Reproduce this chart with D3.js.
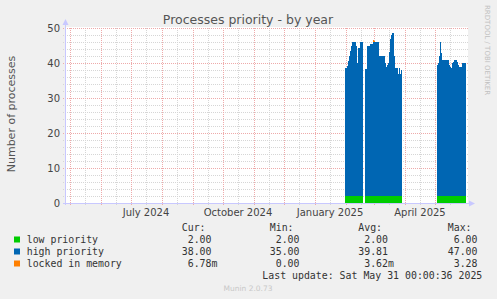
<!DOCTYPE html>
<html>
<head>
<meta charset="utf-8">
<script src="https://cdn.jsdelivr.net/npm/d3@7"></script>
<style>
  body { margin: 0; background: #f0f0f0; }
  svg { display: block; font-family: "DejaVu Sans", sans-serif; }
  .mono { font-family: "DejaVu Sans Mono", monospace; }
</style>
</head>
<body>
<svg id="chart" width="497" height="299"></svg>
<script>
// data, one value per day
const segmentStarts = ['2025-01-31', '2025-02-20', '2025-05-03'];
const highPriority = [
  [36.7, 36.7, 37.2, 38.5, 40, 41.5, 43, 44, 44, 44, 44, 43, 37.9, 42.4, 42.4, 44, 44, 44],
  [36.3, 36.3, 42.9, 42.9, 42.9, 43.3, 43.3, 43.3, 44.1, 44.1, 44.1, 44.1, 44.1, 44.1, 40, 40, 40,
   40, 40, 40, 38, 37, 37.4, 38, 41.2, 45, 46, 46.5, 46.5, 40, 36.5, 36.5, 36.5, 35, 36.5, 35, 36],
  [37.4, 37.9, 40, 44, 41, 38.9, 38.9, 38.9, 38.9, 38.9, 38.9, 38.9, 37.4, 36.9, 36.5, 37.9, 38.3,
   38.9, 38.9, 38.9, 38.3, 37.4, 36.9, 36.9, 36.9, 37.9, 38, 38, 38]
];
const lowPriority = [
  [2, 2, 2, 2, 2, 2, 2, 2, 2, 2, 2, 2, 2, 2, 2, 2, 2, 2],
  [2, 2, 2, 2, 2, 2, 2, 2, 2, 2, 2, 2, 2, 2, 2, 2, 2, 2, 2, 2, 2, 2, 2, 2, 2, 2, 2, 2, 2, 2, 2, 2, 2, 2, 2, 2, 2],
  [2, 2, 2, 2, 2, 2, 2, 2, 2, 2, 2, 2, 2, 2, 2, 2, 2, 2, 2, 2, 2, 2, 2, 2, 2, 2, 2, 2, 2]
];
const lockedInMemory = [
  [0, 0, 0, 0, 0, 0, 0, 0, 0, 0, 0, 0, 0, 0, 0, 0, 0, 0],
  [0, 0, 0, 0, 0, 0, 0, 0, 0.4, 0.3, 0, 0, 0, 0, 0, 0, 0, 0, 0, 0, 0, 0, 0, 0, 0, 0, 0, 0, 0, 0, 0, 0, 0, 0, 0, 0, 0],
  [0, 0, 0, 0, 0, 0, 0, 0, 0, 0, 0, 0, 0, 0, 0, 0, 0, 0, 0, 0, 0, 0, 0, 0, 0, 0, 0, 0, 0]
];

const seriesNames = ['low priority', 'high priority', 'locked in memory'];
const seriesColors = ['#00cc00', '#0066b3', '#ff8000'];
const statCur = ['2.00', '38.00', '6.78m'];
const statMin = ['2.00', '35.00', '0.00'];
const statAvg = ['2.00', '39.81', '3.62m'];
const statMax = ['6.00', '47.00', '3.28'];
const yTicks = [0, 10, 20, 30, 40, 50];

const svg = d3.select('#chart');
const day = 86400000;

// plot frame
const pLeft = 66, pRight = 466, pTop = 28, pBottom = 203;
const x = d3.scaleUtc()
  .domain([new Date(Date.UTC(2024, 3, 27)), new Date(Date.UTC(2025, 5, 1))])
  .range([pLeft, pRight]);
const y = d3.scaleLinear().domain([0, 50]).range([pBottom, pTop]);

svg.append('rect').attr('x', pLeft).attr('y', pTop - 1)
  .attr('width', pRight - pLeft + 2).attr('height', pBottom - pTop + 1)
  .attr('fill', '#fff');

// grid (behind data)
const gridG = svg.append('g').attr('shape-rendering', 'crispEdges');
const minorColor = '#d6d6d6', majorColor = '#eeaaaa';
const minorY = d3.range(0, 51, 2).filter(v => v % 10 !== 0);
gridG.selectAll('.ymin').data(minorY).enter().append('line')
  .attr('x1', pLeft - 3).attr('x2', pRight + 2)
  .attr('y1', d => y(d) + 0.5).attr('y2', d => y(d) + 0.5)
  .attr('stroke', minorColor).attr('stroke-dasharray', '1,1');
const halfMonths = d3.utcMonth.range(x.domain()[0], x.domain()[1]).map(m => d3.utcDay.offset(m, 15));
gridG.selectAll('.xmin').data(halfMonths).enter().append('line')
  .attr('x1', d => Math.round(x(d)) + 0.5).attr('x2', d => Math.round(x(d)) + 0.5)
  .attr('y1', pTop).attr('y2', pBottom + 3)
  .attr('stroke', minorColor).attr('stroke-dasharray', '1,1');
gridG.selectAll('.ymaj').data(yTicks.slice(1)).enter().append('line')
  .attr('x1', pLeft - 3).attr('x2', pRight + 2)
  .attr('y1', d => y(d) + 0.5).attr('y2', d => y(d) + 0.5)
  .attr('stroke', majorColor).attr('stroke-dasharray', '1,1');
const months = d3.utcMonth.range(x.domain()[0], x.domain()[1]);
gridG.selectAll('.xmaj').data(months).enter().append('line')
  .attr('x1', d => Math.round(x(d)) + 0.5).attr('x2', d => Math.round(x(d)) + 0.5)
  .attr('y1', pTop).attr('y2', pBottom + 3)
  .attr('stroke', majorColor).attr('stroke-dasharray', '1,1');

// stacked areas per segment
const stack = d3.stack().keys([0, 1, 2]);
const area = d3.area()
  .curve(d3.curveStepAfter)
  .x(d => x(d.data.date))
  .y0(d => y(d[0]))
  .y1(d => y(d[1]));

segmentStarts.forEach((s, si) => {
  const t0 = new Date(s + 'T00:00:00Z').getTime();
  const rows = highPriority[si].map((h, i) => ({
    date: new Date(t0 + i * day),
    0: lowPriority[si][i], 1: h, 2: lockedInMemory[si][i]
  }));
  const last = rows[rows.length - 1];
  rows.push(Object.assign({}, last, { date: new Date(last.date.getTime() + day) }));
  const layers = stack(rows);
  layers.forEach((layer, k) => {
    svg.append('path')
      .attr('d', area(layer))
      .attr('fill', seriesColors[k])
      .attr('shape-rendering', 'crispEdges');
  });
});

// axes
svg.append('line').attr('x1', pLeft - 0.5).attr('x2', pLeft - 0.5)
  .attr('y1', pTop - 3).attr('y2', pBottom + 2).attr('stroke', '#c8c8ff');
svg.append('path').attr('d', `M${pLeft - 3.5},${pTop - 3}L${pLeft - 0.5},${pTop - 9}L${pLeft + 2.5},${pTop - 3}Z`)
  .attr('fill', '#c8c8ff');
svg.append('line').attr('x1', pLeft - 3).attr('x2', pRight + 4)
  .attr('y1', pBottom + 0.5).attr('y2', pBottom + 0.5).attr('stroke', '#c8c8ff');
svg.append('path').attr('d', `M${pRight + 3},${pBottom - 2.5}L${pRight + 9},${pBottom + 0.5}L${pRight + 3},${pBottom + 3.5}Z`)
  .attr('fill', '#c8c8ff');

// tick labels
svg.selectAll('.ylab').data(yTicks).enter().append('text')
  .attr('x', 60).attr('y', d => y(d) + 3.5)
  .attr('text-anchor', 'end').attr('font-size', '10px').attr('fill', '#444')
  .text(d => d);
const labelMonths = d3.utcMonth.every(3).range(new Date(Date.UTC(2024, 6, 1)), x.domain()[1]);
svg.selectAll('.xlab').data(labelMonths).enter().append('text')
  .attr('x', d => x(d3.utcDay.offset(d, 15)))
  .attr('y', 216)
  .attr('text-anchor', 'middle').attr('font-size', '10px').attr('fill', '#444')
  .text(d => d3.utcFormat('%B %Y')(d));

// titles
svg.append('text').attr('x', 248).attr('y', 24).attr('text-anchor', 'middle')
  .attr('font-size', '12.5px').attr('fill', '#555')
  .text('Processes priority - by year');
svg.append('text').attr('transform', 'translate(15,114) rotate(-90)')
  .attr('text-anchor', 'middle').attr('font-size', '11px').attr('fill', '#555')
  .text('Number of processes');
svg.append('text').attr('transform', 'translate(485,5) rotate(90)')
  .attr('text-anchor', 'start').attr('font-size', '7px').attr('fill', '#c0c0c0')
  .text('RRDTOOL / TOBI OETIKER');

// legend
const cw = 5.96;
const legend = svg.append('g').attr('class', 'mono').attr('font-size', '9.9px').attr('fill', '#333');
const colRight = [211.5, 299.5, 388, 477.5];
['Cur:', 'Min:', 'Avg:', 'Max:'].forEach((h, i) => {
  legend.append('text').attr('x', colRight[i] - cw).attr('y', 231)
    .attr('text-anchor', 'end').text(h);
});
const rowY = [243, 255, 267];
const stats = [statCur, statMin, statAvg, statMax];
seriesNames.forEach((name, r) => {
  legend.append('rect').attr('x', 14).attr('y', rowY[r] - 6.5).attr('width', 6).attr('height', 6)
    .attr('fill', seriesColors[r]);
  legend.append('text').attr('x', 26.7).attr('y', rowY[r]).text(name);
  stats.forEach((col, c) => {
    const v = col[r];
    const num = v.replace(/[a-z]$/, '');
    const suffix = v.slice(num.length);
    legend.append('text').attr('x', colRight[c]).attr('y', rowY[r])
      .attr('text-anchor', 'end').text(num);
    if (suffix) legend.append('text').attr('x', colRight[c]).attr('y', rowY[r]).text(suffix);
  });
});
legend.append('text').attr('x', 482.3).attr('y', 279).attr('text-anchor', 'end')
  .text('Last update: Sat May 31 00:00:36 2025');
svg.append('text').attr('x', 248).attr('y', 291).attr('text-anchor', 'middle')
  .attr('font-size', '7.5px').attr('fill', '#c8c8c8')
  .text('Munin 2.0.73');
</script>
</body>
</html>
